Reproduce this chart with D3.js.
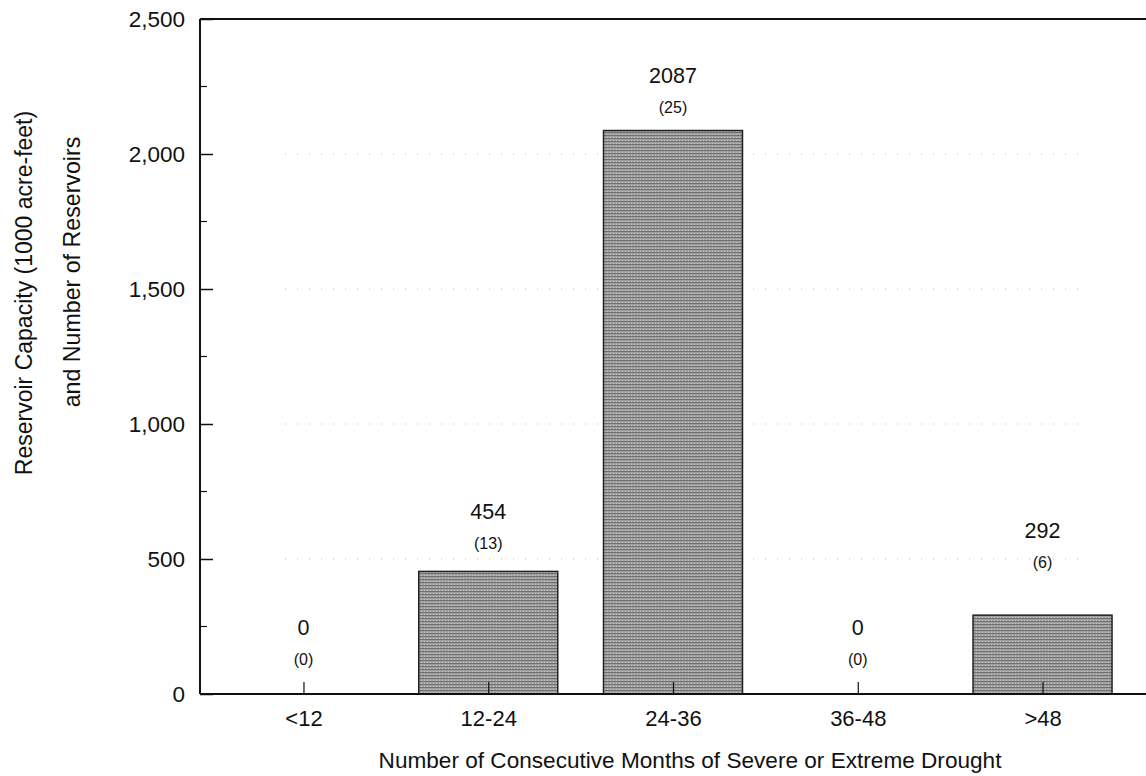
<!DOCTYPE html>
<html><head><meta charset="utf-8">
<script src="https://cdn.jsdelivr.net/npm/d3@7"></script>
<style>body{margin:0;background:#fff}svg{display:block}text{font-family:"Liberation Sans",Arial,sans-serif;fill:#111}</style>
</head><body>
<svg id="c" width="1146" height="776"></svg>
<script>
const categories = ["<12", "12-24", "24-36", "36-48", ">48"];
const capacity = [0, 454, 2087, 0, 292];
const reservoirCount = [0, 13, 25, 0, 6];
const yTickValues = [0, 500, 1000, 1500, 2000, 2500];
const yTickLabels = ["0", "500", "1,000", "1,500", "2,000", "2,500"];
// label lift above bar top (layout only)
const labelLift = [67, 60, 56, 67, 85];

const svg = d3.select("#c");
const L = 200, R = 1146, T = 19, B = 694;
const x = d3.scalePoint().domain(categories).range([L, R]).padding(0.56);
const y = d3.scaleLinear().domain([0, 2500]).range([B, T]);
const bw = 139;

const defs = svg.append("defs");
const pat = defs.append("pattern").attr("id","tex").attr("patternUnits","userSpaceOnUse").attr("width",3).attr("height",3);
pat.append("rect").attr("width",3).attr("height",3).attr("fill","#a0a0a0");
pat.append("rect").attr("width",3).attr("height",1).attr("fill","#707070");
pat.append("rect").attr("x",1).attr("y",2).attr("width",1).attr("height",1).attr("fill","#c4c4c4");

// gridlines
svg.append("g").selectAll("line").data(yTickValues.filter(v => v > 0 && v < 2500)).join("line")
  .attr("x1", L + 85).attr("x2", R - 60).attr("y1", d => y(d)).attr("y2", d => y(d))
  .attr("stroke", "#bbb").attr("stroke-width", 1).attr("stroke-dasharray", "1,11");

// bars
svg.append("g").selectAll("rect").data(categories.map((c,i)=>({c, v: capacity[i]})).filter(d=>d.v>0)).join("rect")
  .attr("x", d => x(d.c) - bw/2).attr("width", bw)
  .attr("y", d => y(d.v)).attr("height", d => B - y(d.v))
  .attr("fill", "url(#tex)").attr("stroke", "#222").attr("stroke-width", 1.5);

// y axis
const yAxis = d3.axisLeft(y).tickValues(yTickValues).tickFormat((d,i)=>yTickLabels[i]).tickSize(-13).tickPadding(15);
const gy = svg.append("g").attr("transform", `translate(${L},0)`).call(yAxis);
gy.select(".domain").remove();
gy.selectAll("text").style("font-size","22.5px").attr("fill","#111");
gy.selectAll("line").attr("stroke","#111").attr("stroke-width",1.5);
const minor = d3.range(250, 2500, 500);
svg.append("g").selectAll("line").data(minor).join("line")
  .attr("x1", L).attr("x2", L + 7).attr("y1", d => y(d)).attr("y2", d => y(d))
  .attr("stroke","#111").attr("stroke-width",1.2);

// x axis
const xAxis = d3.axisBottom(x).tickSize(-12).tickPadding(16);
const gx = svg.append("g").attr("transform", `translate(0,${B})`).call(xAxis);
gx.select(".domain").remove();
gx.selectAll("text").style("font-size","22px").attr("fill","#111");
gx.selectAll("line").attr("stroke","#111").attr("stroke-width",1.2);

// frame lines
svg.append("line").attr("x1",L).attr("x2",R).attr("y1",B).attr("y2",B).attr("stroke","#111").attr("stroke-width",2);
svg.append("line").attr("x1",L).attr("x2",R).attr("y1",T).attr("y2",T).attr("stroke","#111").attr("stroke-width",2);
svg.append("line").attr("x1",L).attr("x2",L).attr("y1",T).attr("y2",B).attr("stroke","#111").attr("stroke-width",2);

// value labels
const lab = svg.append("g");
categories.forEach((c,i) => {
  const top = y(capacity[i]);
  lab.append("text").attr("x", x(c)).attr("y", top - labelLift[i] + 8).attr("text-anchor","middle")
    .style("font-size","21.5px").text(capacity[i]);
  lab.append("text").attr("x", x(c)).attr("y", top - labelLift[i] + 38).attr("text-anchor","middle")
    .style("font-size","16px").text("(" + reservoirCount[i] + ")");
});

// axis titles
svg.append("text").attr("x", 690).attr("y", 768).attr("text-anchor","middle").style("font-size","22.6px")
  .text("Number of Consecutive Months of Severe or Extreme Drought");
svg.append("text").attr("transform","translate(32,293) rotate(-90)").attr("text-anchor","middle").style("font-size","23px")
  .text("Reservoir Capacity (1000 acre-feet)");
svg.append("text").attr("transform","translate(80,272) rotate(-90)").attr("text-anchor","middle").style("font-size","23.2px")
  .text("and Number of Reservoirs");
</script>
</body></html>
